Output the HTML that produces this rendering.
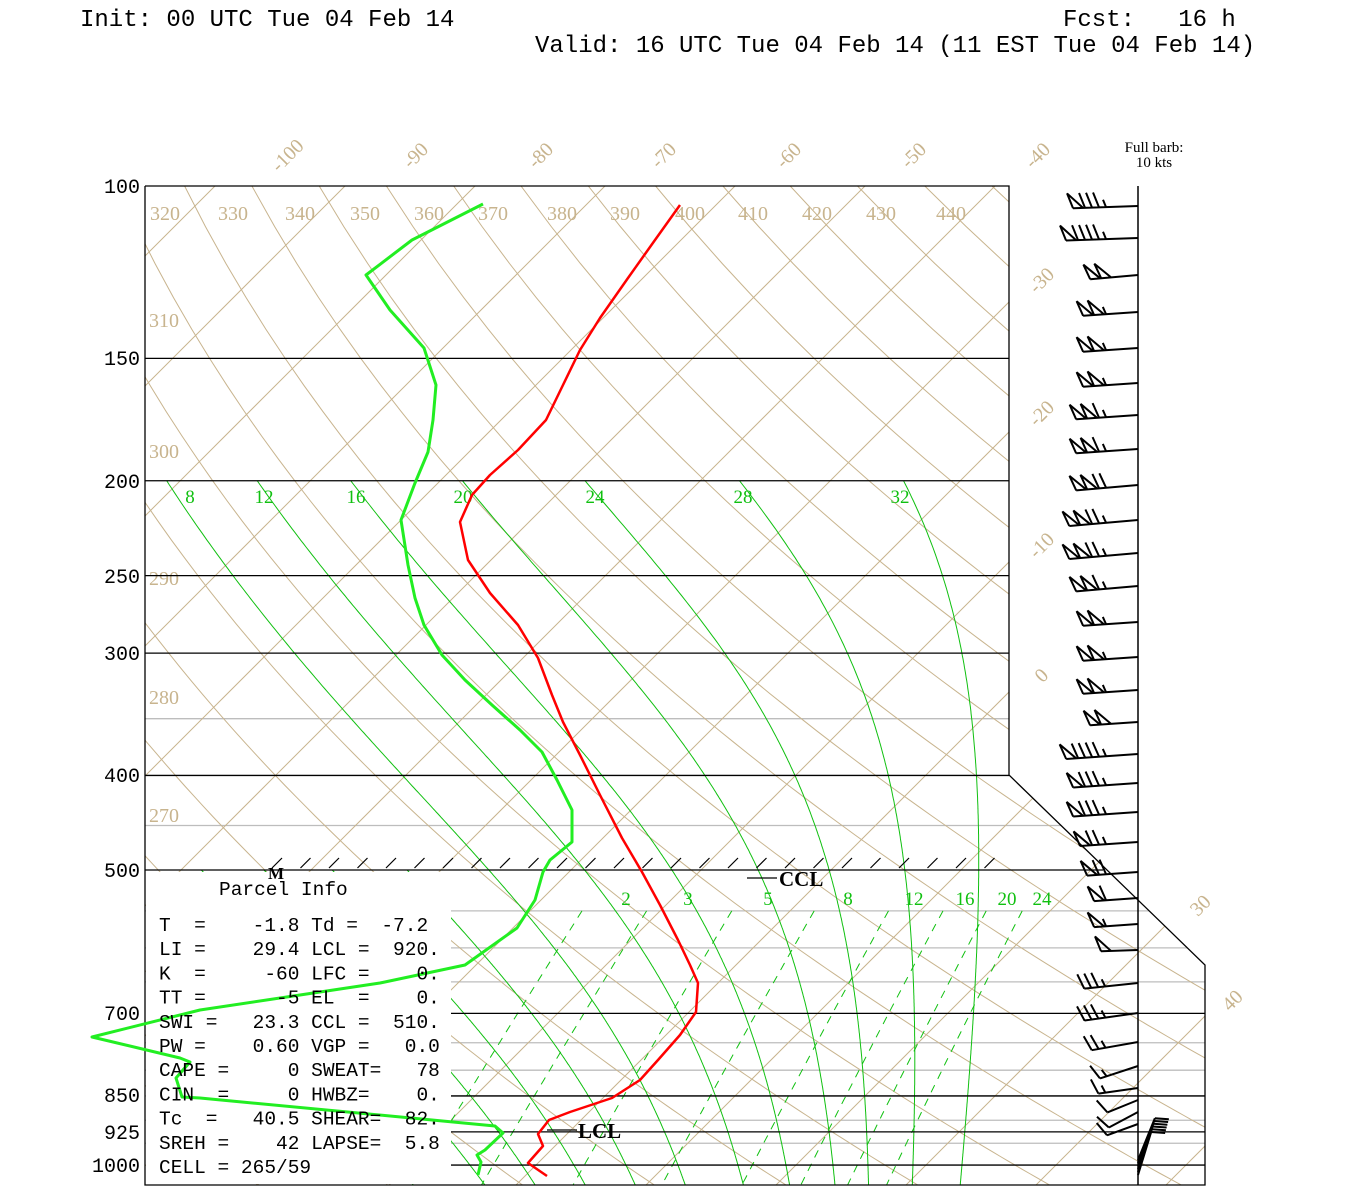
<!DOCTYPE html>
<html><head><meta charset="utf-8"><style>
html,body{margin:0;padding:0;background:#fff;}
svg{display:block}
.hd{font-family:"Liberation Mono",monospace;font-size:24px;fill:#000}
.pl{font-family:"Liberation Mono",monospace;font-size:20px;fill:#000}
.tan{font-family:"Liberation Serif",serif;font-size:20px;fill:#c8b48e}
.grn{font-family:"Liberation Serif",serif;font-size:19px;fill:#10c010}
.pi{font-family:"Liberation Mono",monospace;font-size:19.5px;fill:#000;white-space:pre}
</style></head><body>
<svg id="s" width="1350" height="1200" viewBox="0 0 1350 1200" xmlns="http://www.w3.org/2000/svg">
<defs>
<clipPath id="c"><polygon points="145,186 1009,186 1009,775 1205,965 1205,1185 145,1185"/></clipPath>
<clipPath id="cm"><polygon points="145,481 1009,481 1009,775 1205,965 1205,1185 145,1185"/></clipPath>
<clipPath id="cl"><polygon points="145,870 1105,870 1205,965 1205,1185 145,1185"/></clipPath>
</defs>
<rect width="1350" height="1200" fill="#fff"/>
<text class="hd" x="80" y="26">Init: 00 UTC Tue 04 Feb 14</text>
<text class="hd" x="1063" y="26" xml:space="preserve">Fcst:   16 h</text>
<text class="hd" x="535" y="52">Valid: 16 UTC Tue 04 Feb 14 (11 EST Tue 04 Feb 14)</text>
<text x="1154" y="152" text-anchor="middle" font-family="Liberation Serif,serif" font-size="15">Full barb:</text>
<text x="1154" y="167" text-anchor="middle" font-family="Liberation Serif,serif" font-size="15">10 kts</text>
<g id="grid" clip-path="url(#c)"></g>
<g id="moist" clip-path="url(#cm)"></g>
<g id="moistl" clip-path="url(#cl)"></g>
<g id="labels"></g>
<rect x="146" y="872" width="305" height="312" fill="#fff"/>
<g id="frame"></g>
<g id="prof"></g>
<g id="barbs"></g>
<g id="txt"></g>
</svg>
<script>
(function(){
var NS="http://www.w3.org/2000/svg";
function el(par,tag,attrs,txt){var e=document.createElementNS(NS,tag);for(var k in attrs)e.setAttribute(k,attrs[k]);if(txt!==undefined)e.textContent=txt;document.getElementById(par).appendChild(e);return e;}
function Y(p){return 186+425.2*Math.log(p/100);}
function X(T,y){return 536+13*T+(1165-y);}
var TAN="#c8b48e",GRAY="#bdbdbd",GR="#10c010";
for(var p=350;p<=1050;p+=50){if([400,500,700,1000].indexOf(p)>=0)continue;
 if(p==350||p==450||p>=550){el("grid","line",{x1:145,x2:1205,y1:Y(p),y2:Y(p),stroke:GRAY,"stroke-width":1.3});}}
for(var T=-140;T<=60;T+=10){var y1=100,y2=1200;el("grid","line",{x1:X(T,y1),y1:y1,x2:X(T,y2),y2:y2,stroke:TAN,"stroke-width":1});}
for(var th=230;th<=460;th+=10){var d="";for(var p=80;p<=1060;p+=10){var t=th*Math.pow(p/1000,0.286)-273.15;var y=Y(p);d+=(p==80?"M":"L")+X(t,y).toFixed(1)+","+y.toFixed(1);}
 el("grid","path",{d:d,fill:"none",stroke:TAN,"stroke-width":1});}
[2,3,5,8,12,16,20,24].forEach(function(w){var d="";var first=true;for(var p=550;p<=1050;p+=10){var e=w*p/(622+w);var L=Math.log(e/6.112);var td=243.5*L/(17.67-L);var y=Y(p);d+=(first?"M":"L")+X(td,y).toFixed(1)+","+y.toFixed(1);first=false;}
 el("grid","path",{d:d,fill:"none",stroke:GR,"stroke-width":1,"stroke-dasharray":"8,7"});});
function es(T){return 6.112*Math.exp(17.67*T/(T+243.5));}
function dTdp(T,p){var Tk=T+273.15;var e=es(T);var rs=0.622*e/(p-e);return (287*Tk+2.5e6*rs)/(p*(1004+2.5e6*2.5e6*rs*0.622/(287*Tk*Tk)));}
var off={"-8":38,"-4":38,"0":38,"4":38,"8":38,"12":46,"16":42,"20":37,"24":20,"28":13,"32":10};
for(var tw=-8;tw<=32;tw+=4){var pts=[];var T=tw,p=1000;pts.push([p,T]);
 while(p>200){var h=-2;T+=dTdp(T,p)*h;p+=h;pts.push([p,T]);}
 var up=pts.reverse();T=tw;p=1000;while(p<1060){var h=2;T+=dTdp(T,p)*h;p+=h;up.push([p,T]);}
 var o=off[String(tw)];
 var d="";up.forEach(function(q,i){var y=Y(q[0]);d+=(i?"L":"M")+(X(q[1],y)+o).toFixed(1)+","+y.toFixed(1);});
 el(tw>=8?"moist":"moistl","path",{d:d,fill:"none",stroke:GR,"stroke-width":1});}
el("frame","polyline",{points:"145,186 1009,186 1009,775 1205,965 1205,1185 145,1185 145,186",fill:"none",stroke:"#000","stroke-width":1.3});
[[150,1009],[200,1009],[250,1009],[300,1009],[400,1009]].forEach(function(a){el("frame","line",{x1:145,x2:a[1],y1:Y(a[0]),y2:Y(a[0]),stroke:"#000","stroke-width":1.3});});
el("frame","line",{x1:145,x2:1103,y1:870,y2:870,stroke:"#000","stroke-width":1.3});
[700,850,925,1000].forEach(function(p){el("frame","line",{x1:451,x2:1205,y1:Y(p),y2:Y(p),stroke:"#000","stroke-width":1.3});});
el("frame","line",{x1:1138,x2:1138,y1:186,y2:1185,stroke:"#000","stroke-width":1.5});
for(var x=272;x<1000;x+=28.5){el("frame","line",{x1:x,y1:868,x2:x+10,y2:858,stroke:"#000","stroke-width":1.2});}
[[100,186],[150,358],[200,481],[250,576],[300,653],[400,775],[500,870],[700,1013],[850,1095],[925,1132],[1000,1165]].forEach(function(a){el("labels","text",{"class":"pl",x:140,y:a[1]+7,"text-anchor":"end"},String(a[0]));});
[[320,150],[330,218],[340,285],[350,350],[360,414],[370,478],[380,547],[390,610],[400,675],[410,738],[420,802],[430,866],[440,936]].forEach(function(a){el("labels","text",{"class":"tan",x:a[1],y:220},String(a[0]));});
[[310,320],[300,451],[290,578],[280,697],[270,815]].forEach(function(a){el("labels","text",{"class":"tan",x:149,y:a[1]+7},String(a[0]));});
[["-100",292,160],["-90",420,160],["-80",545,160],["-70",668,160],["-60",793,160],["-50",918,160],["-40",1042,160],["-30",1046,285],["-20",1046,418],["-10",1046,550],["0",1046,680],["30",1205,910],["40",1237,1005]].forEach(function(a){el("labels","text",{"class":"tan",x:a[1],y:a[2],"text-anchor":"middle",transform:"rotate(-45 "+a[1]+" "+a[2]+")"},a[0]);});
[["8",190],["12",264],["16",356],["20",463],["24",595],["28",743],["32",900]].forEach(function(a){el("labels","text",{"class":"grn",x:a[1],y:503,"text-anchor":"middle"},a[0]);});
[["2",626],["3",688],["5",768],["8",848],["12",914],["16",965],["20",1007],["24",1042]].forEach(function(a){el("labels","text",{"class":"grn",x:a[1],y:905,"text-anchor":"middle"},a[0]);});
var red=[[680,205],[655,240],[628,278],[600,318],[580,350],[563,385],[546,420],[518,450],[490,475],[472,495],[460,522],[468,560],[490,593],[518,625],[538,658],[552,695],[563,722],[580,755],[600,795],[622,838],[642,872],[660,905],[678,940],[690,965],[698,983],[696,1012],[680,1035],[658,1060],[640,1080],[612,1098],[570,1112],[549,1120],[538,1134],[543,1146],[528,1163],[547,1176]];
var grn=[[483,204],[412,240],[366,275],[390,310],[424,348],[436,385],[433,420],[428,452],[415,483],[401,520],[408,565],[415,598],[424,625],[442,655],[465,680],[492,705],[520,730],[542,752],[557,780],[572,810],[572,842],[550,860],[543,872],[535,900],[517,928],[465,965],[380,983],[300,995],[200,1010],[92,1037],[180,1058],[190,1062],[176,1078],[182,1097],[200,1098],[495,1126],[503,1133],[485,1150],[477,1155],[481,1162],[478,1175]];
function pl(a){return a.map(function(q){return q.join(",");}).join(" ");}
el("prof","polyline",{points:pl(grn),fill:"none",stroke:"#22ee22","stroke-width":3,"stroke-linejoin":"round"});
el("prof","polyline",{points:pl(red),fill:"none",stroke:"#ff0000","stroke-width":2.5,"stroke-linejoin":"round"});
el("prof","line",{x1:747,x2:777,y1:878,y2:878,stroke:"#000","stroke-width":1.3});
el("prof","text",{x:779,y:886,"font-family":"Liberation Serif,serif","font-size":21,"font-weight":"bold"},"CCL");
el("prof","line",{x1:547,x2:577,y1:1130,y2:1130,stroke:"#000","stroke-width":1.3});
el("prof","text",{x:578,y:1138,"font-family":"Liberation Serif,serif","font-size":21,"font-weight":"bold"},"LCL");
el("prof","text",{x:268,y:879,"font-family":"Liberation Serif,serif","font-size":17,"font-weight":"bold"},"M");
function barb(y,ang,F,f,h){var a=ang*Math.PI/180;var ux=Math.cos(a),uy=Math.sin(a);var b=a+70*Math.PI/180;var fx=Math.cos(b),fy=Math.sin(b);
 var L=26+11*F+7*(f+h);var x0=1138,y0=y;var tx=x0+ux*L,ty=y0+uy*L;
 var d="M"+x0+","+y0+"L"+tx.toFixed(1)+","+ty.toFixed(1);var s=0;
 for(var i=0;i<F;i++){var ax=tx-ux*s,ay=ty-uy*s;var bx=ax-ux*10,by=ay-uy*10;var cx=ax+fx*16,cy=ay+fy*16;d+="M"+ax+","+ay+"L"+cx+","+cy+"L"+bx+","+by;s+=11;}
 if(F&&(f||h))s+=1;
 for(var i=0;i<f;i++){var ax=tx-ux*s,ay=ty-uy*s;d+="M"+ax+","+ay+"L"+(ax+fx*16)+","+(ay+fy*16);s+=7;}
 for(var i=0;i<h;i++){if(!f&&!F)s+=4;var ax=tx-ux*s,ay=ty-uy*s;d+="M"+ax+","+ay+"L"+(ax+fx*8)+","+(ay+fy*8);s+=7;}
 el("barbs","path",{d:d,fill:"none",stroke:"#000","stroke-width":2,"stroke-linejoin":"miter"});}
[[206,178,1,3,1],[238,178,1,4,1],[275,175,2,0,0],[312,176,2,0,1],[348,176,2,0,1],[383,176,2,0,1],[415,176,2,1,1],[449,176,2,1,1],[485,175,2,2,0],[520,175,2,2,1],[553,175,2,2,1],[586,175,2,1,1],[622,176,2,0,1],[657,176,2,0,1],[690,176,2,0,1],[722,176,2,0,0],[754,176,1,4,1],[783,176,1,3,1],[812,176,1,3,1],[842,176,1,2,1],[872,176,1,2,0],[898,176,1,1,0],[924,176,1,0,1],[950,178,1,0,0],[983,174,0,3,1],[1013,172,0,3,1],[1042,170,0,2,1],[1066,162,0,1,1],[1088,172,0,1,1],[1100,158,0,1,0],[1112,152,0,1,0],[1124,160,0,1,0]].forEach(function(a){barb(a[0],a[1],a[2],a[3],a[4]);});
for(var i=0;i<6;i++){var y=1175-i*3;var ang=-73+i;var a=ang*Math.PI/180;var L=45;var tx=1138+Math.cos(a)*L,ty=y+Math.sin(a)*L;
 el("barbs","path",{d:"M1138,"+y+"L"+tx+","+ty+"M"+tx+","+ty+"L"+(tx+14)+","+(ty+1),fill:"none",stroke:"#000","stroke-width":2});}
var rows=["T  =    -1.8 Td =  -7.2","LI =    29.4 LCL =  920.","K  =     -60 LFC =    0.","TT =      -5 EL  =    0.","SWI =   23.3 CCL =  510.","PW =    0.60 VGP =   0.0","CAPE =     0 SWEAT=   78","CIN  =     0 HWBZ=    0.","Tc  =   40.5 SHEAR=  82.","SREH =    42 LAPSE=  5.8","CELL = 265/59"];
el("txt","text",{"class":"pi",x:219,y:895,"font-size":21},"Parcel Info");
rows.forEach(function(r,i){el("txt","text",{"class":"pi",x:159,y:931+i*24.2,"xml:space":"preserve"},r);});
})();
</script>
</body></html>
